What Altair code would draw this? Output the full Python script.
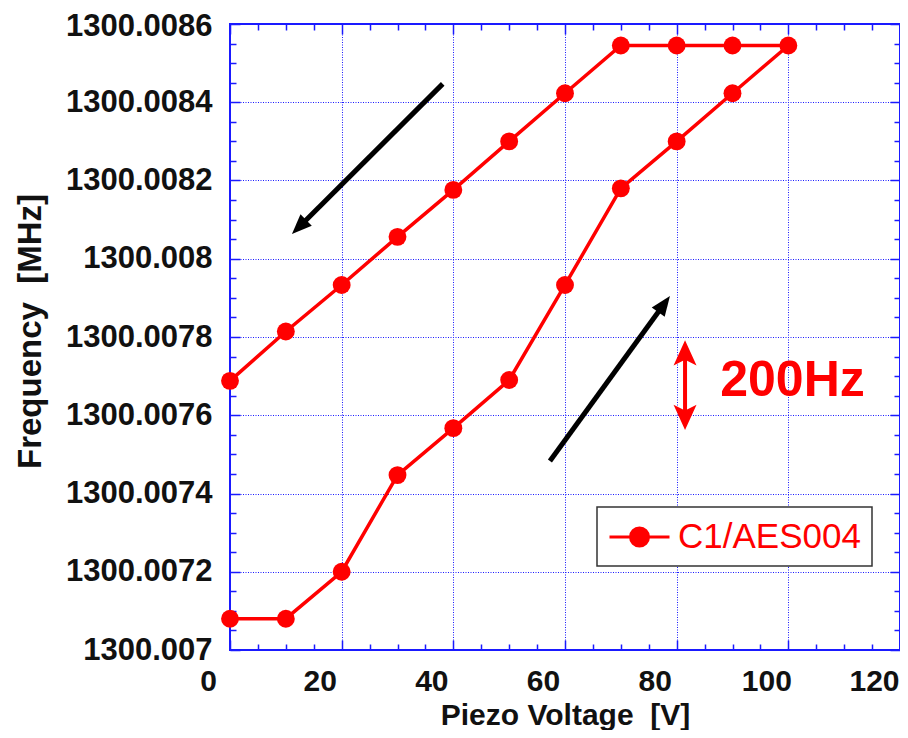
import math
import altair as alt
import pandas as pd

# ---------------- data ----------------
voltage = [0, 10, 20, 30, 40, 50, 60, 70, 80, 90, 100]
freq_up = [1300.00708, 1300.00708, 1300.00720, 1300.007447, 1300.007567, 1300.00769,
           1300.007933, 1300.00818, 1300.0083, 1300.008423, 1300.008545]
freq_down = [1300.007688, 1300.007814, 1300.007933, 1300.008056, 1300.008176, 1300.0083,
             1300.008423, 1300.008545, 1300.008545, 1300.008545, 1300.008545]
series_name = "C1/AES004"

x_ticks = [0, 20, 40, 60, 80, 100, 120]
y_ticks = [1300.007, 1300.0072, 1300.0074, 1300.0076, 1300.0078, 1300.008,
           1300.0082, 1300.0084, 1300.0086]
x_minor = [i * 5 for i in range(25) if i % 4 != 0]
y_minor = [round(1300.007 + i * 0.00005, 6) for i in range(33) if i % 4 != 0]

# annotation arrows (data coordinates): start -> tip
black_start_x = [38.1, 57.3]
black_start_y = [1300.008447, 1300.007483]
black_tip_x = [11.1, 78.8]
black_tip_y = [1300.008063, 1300.007905]
red_x = [81.5, 81.5]
red_tip_y = [1300.007792, 1300.007562]
label_200 = "200Hz"
label_200_x = 87.8
label_200_y = 1300.007688

# ---------------- layout ----------------
W, H = 670, 626
XD = [0, 120]
YD = [1300.007, 1300.0086]
BLUE = "#1a1aff"
RED = "#ff0000"
FONT = "Liberation Sans"

rows = []
k = 0
for v, f in zip(voltage, freq_up):
    rows.append({"v": v, "f": f, "order": k, "series": series_name}); k += 1
for v, f in list(zip(voltage, freq_down))[::-1][1:]:
    rows.append({"v": v, "f": f, "order": k, "series": series_name}); k += 1
df = pd.DataFrame(rows)


def px(dx, dy):
    return dx / (XD[1] - XD[0]) * W, -dy / (YD[1] - YD[0]) * H


arrows = []
for sx, sy, tx, ty in zip(black_start_x, black_start_y, black_tip_x, black_tip_y):
    dxp, dyp = px(tx - sx, ty - sy)
    ln = math.hypot(dxp, dyp)
    ang = math.degrees(math.atan2(dxp, -dyp)) % 360
    fr = 1 - 14 / ln
    arrows.append({"sx": sx, "sy": sy, "ex": sx + fr * (tx - sx), "ey": sy + fr * (ty - sy),
                   "tx": tx, "ty": ty, "ang": ang})
adf = pd.DataFrame(arrows)

rdf = pd.DataFrame({"x": red_x, "y": red_tip_y, "ang": [0, 180]})
rline = pd.DataFrame({"x": [red_x[0]], "y": [red_tip_y[0] - 0.00004], "y2": [red_tip_y[1] + 0.00004]})
tdf = pd.DataFrame({"x": [label_200_x], "y": [label_200_y], "t": [label_200]})

xs = alt.Scale(domain=XD, nice=False, zero=False)
ys = alt.Scale(domain=YD, nice=False, zero=False)


def tick_axis(orient, offset, values, size):
    return alt.Axis(orient=orient, offset=offset, values=values, labels=False, grid=False,
                    domain=False, title=None, ticks=True, tickColor=BLUE, tickWidth=1.5,
                    tickSize=size)


label_style = dict(labelFont=FONT, labelFontSize=30, labelFontWeight="bold",
                   labelColor="#111111", labelPadding=16, labelFlush=False, labelOverlap=False)
ylabel_style = dict(labelFont=FONT, labelFontSize=31, labelFontWeight="bold",
                    labelColor="#111111", labelPadding=18, labelFlush=False, labelOverlap=False)

main_x = alt.Axis(orient="bottom", values=x_ticks[:-1], grid=True, gridColor=BLUE,
                  gridDash=[1, 1.5], gridWidth=1,
                  ticks=False, tickSize=0, domain=False, labelOffset=-22, **label_style,
                  title="Piezo Voltage\u00a0 [V]", titleFont=FONT, titleFontSize=30,
                  titleFontWeight="bold", titleColor="#111111", titleX=W / 2, titleY=65,
                  titleAlign="center", titleBaseline="middle")
last_x = alt.Axis(orient="bottom", values=x_ticks[-1:], grid=False, ticks=False, tickSize=0,
                  domain=False, labelOffset=-26, **label_style, title=None)
main_y = alt.Axis(orient="left", values=y_ticks[:-1], format=".4~f", grid=True, gridColor=BLUE,
                  gridDash=[1, 1.5], gridWidth=1, ticks=False, tickSize=0, domain=False,
                  **ylabel_style,
                  title="Frequency\u00a0 [MHz]", titleFont=FONT, titleFontSize=33,
                  titleFontWeight="bold", titleColor="#111111", titleX=-200, titleY=307,
                  titleAlign="center", titleBaseline="middle", titleAngle=270)
top_y = alt.Axis(orient="left", values=y_ticks[-1:], format=".4~f", grid=False, ticks=False,
                 tickSize=0, domain=False, labelOffset=2, **ylabel_style, title=None)

legend_symbol = ("M-1,0H2.4286M0.2,0A0.514,0.514,0,1,1,1.2286,0"
                 "A0.514,0.514,0,1,1,0.2,0Z")

line = alt.Chart(df).mark_line(strokeWidth=3.5).encode(
    x=alt.X("v:Q", scale=xs, axis=main_x),
    y=alt.Y("f:Q", scale=ys, axis=main_y),
    order="order:Q",
    color=alt.Color("series:N", scale=alt.Scale(domain=[series_name], range=[RED]),
                    legend=alt.Legend(title=None, orient="none", legendX=367, legendY=483,
                                      symbolType=legend_symbol, symbolSize=1225,
                                      symbolStrokeWidth=3, symbolFillColor=RED,
                                      labelFont=FONT, labelFontSize=35, labelColor=RED,
                                      labelOffset=32, labelLimit=400, padding=11,
                                      strokeColor="#333333", fillColor="white")),
)

points = alt.Chart(df).mark_circle(size=320, color=RED, opacity=1).encode(
    x=alt.X("v:Q", scale=xs, axis=tick_axis("top", -H, x_minor, 6)),
    y=alt.Y("f:Q", scale=ys, axis=tick_axis("right", -W, y_minor, 6)),
)

arrow_lines = alt.Chart(adf).mark_rule(color="black", strokeWidth=5).encode(
    x=alt.X("sx:Q", scale=xs, axis=tick_axis("bottom", -H, x_minor, 6)),
    y=alt.Y("sy:Q", scale=ys, axis=tick_axis("left", -W, y_minor, 6)),
    x2="ex:Q", y2="ey:Q",
)

arrow_heads = alt.Chart(adf).mark_point(shape="M0,0L-0.8,2L0.8,2Z", filled=True, color="black",
                                        opacity=1, size=400).encode(
    x=alt.X("tx:Q", scale=xs, axis=tick_axis("top", -H, x_ticks, 10)),
    y=alt.Y("ty:Q", scale=ys, axis=tick_axis("right", -W, y_ticks, 10)),
    angle=alt.Angle("ang:Q", scale=None),
)

red_line = alt.Chart(rline).mark_rule(color=RED, strokeWidth=4).encode(
    x=alt.X("x:Q", scale=xs, axis=None),
    y=alt.Y("y:Q", scale=ys, axis=None),
    y2="y2:Q",
)

red_heads = alt.Chart(rdf).mark_point(shape="M0,0L-1,2.2L0,1.7L1,2.2Z", filled=True, color=RED,
                                      opacity=1, size=529).encode(
    x=alt.X("x:Q", scale=xs, axis=tick_axis("bottom", -H, x_ticks, 10)),
    y=alt.Y("y:Q", scale=ys, axis=tick_axis("left", -W, y_ticks, 10)),
    angle=alt.Angle("ang:Q", scale=None),
)

text = alt.Chart(tdf).mark_text(align="left", baseline="middle", font=FONT, fontSize=50,
                                fontWeight="bold", color=RED).encode(
    x=alt.X("x:Q", scale=xs, axis=last_x),
    y=alt.Y("y:Q", scale=ys, axis=top_y),
    text="t:N",
)

chart = alt.layer(line, points, arrow_lines, arrow_heads, red_line, red_heads, text).resolve_axis(
    x="independent", y="independent"
).properties(
    width=W, height=H,
    autosize=alt.AutoSizeParams(type="none"),
    padding={"left": 222, "top": 16, "right": 0, "bottom": 80},
    background="white",
).configure_view(stroke=BLUE, strokeWidth=2).configure_legend(strokeWidth=1.5)

chart.save("out.html", embed_options={"renderer": "svg", "actions": False})
